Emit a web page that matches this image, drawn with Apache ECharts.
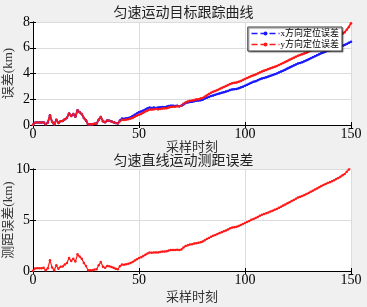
<!DOCTYPE html>
<html>
<head>
<meta charset="utf-8">
<script src="https://cdn.jsdelivr.net/npm/echarts@6/dist/echarts.min.js"></script>
<style>
html, body { margin: 0; padding: 0; background: #f0f0f0; }
#chart { width: 367px; height: 307px; }
</style>
</head>
<body>
<div id="chart"></div>
<script>
// sample index 0..150
const steps = [];
for (let i = 0; i <= 150; i++) steps.push(i);

const xErr = [
  0.02, 0.18, 0.2, 0.2, 0.19, 0.22, 0.05, 0.2, 0.75, 0.25,
  0.05, 0.4, 0.15, 0.3, 0.32, 0.45, 0.55, 0.9, 0.7, 0.85,
  0.65, 1.15, 1.0, 0.85, 0.55, 0.35, 0.05, 0.06, 0.05, 0.1,
  0.12, 0.4, 0.62, 0.3, 0.22, 0.35, 0.33, 0.28, 0.22, 0.15,
  0.12, 0.35, 0.5, 0.48, 0.52, 0.55, 0.6, 0.7, 0.8, 0.9,
  1.0, 1.05, 1.12, 1.2, 1.3, 1.35, 1.33, 1.35, 1.32, 1.35,
  1.38, 1.4, 1.38, 1.42, 1.48, 1.5, 1.5, 1.48, 1.5, 1.45,
  1.5, 1.6, 1.7, 1.75, 1.78, 1.8, 1.85, 1.88, 1.9, 1.92,
  1.97, 2.05, 2.12, 2.18, 2.25, 2.3, 2.35, 2.4, 2.45, 2.5,
  2.55, 2.6, 2.65, 2.72, 2.76, 2.78, 2.8, 2.85, 2.92, 2.98,
  3.05, 3.12, 3.2, 3.28, 3.35, 3.4, 3.48, 3.55, 3.62, 3.66,
  3.7, 3.76, 3.82, 3.88, 3.94, 4.0, 4.08, 4.15, 4.22, 4.3,
  4.38, 4.46, 4.54, 4.62, 4.7, 4.78, 4.82, 4.88, 4.95, 5.02,
  5.1, 5.18, 5.26, 5.34, 5.42, 5.5, 5.58, 5.64, 5.7, 5.76,
  5.8, 5.86, 5.9, 5.95, 6.0, 6.08, 6.15, 6.22, 6.3, 6.38,
  6.46
];

const yErr = [
  0.02, 0.18, 0.2, 0.2, 0.19, 0.22, 0.05, 0.2, 0.75, 0.25,
  0.05, 0.4, 0.15, 0.3, 0.32, 0.45, 0.55, 0.9, 0.7, 0.85,
  0.65, 1.15, 1.0, 0.85, 0.55, 0.35, 0.05, 0.06, 0.05, 0.1,
  0.12, 0.4, 0.62, 0.3, 0.22, 0.35, 0.33, 0.28, 0.22, 0.15,
  0.12, 0.3, 0.4, 0.38, 0.42, 0.45, 0.5, 0.55, 0.65, 0.72,
  0.8, 0.85, 0.95, 1.05, 1.12, 1.2, 1.2, 1.22, 1.25, 1.22,
  1.25, 1.28, 1.3, 1.3, 1.35, 1.4, 1.42, 1.42, 1.45, 1.45,
  1.5, 1.65, 1.75, 1.82, 1.88, 1.9, 1.95, 1.98, 2.0, 2.05,
  2.1, 2.2, 2.3, 2.4, 2.5, 2.58, 2.65, 2.72, 2.8, 2.88,
  2.95, 3.02, 3.1, 3.18, 3.25, 3.28, 3.3, 3.35, 3.42, 3.5,
  3.58, 3.65, 3.72, 3.8, 3.86, 3.92, 4.0, 4.08, 4.16, 4.22,
  4.28, 4.34, 4.4, 4.46, 4.52, 4.58, 4.66, 4.74, 4.82, 4.9,
  4.98, 5.06, 5.14, 5.22, 5.3, 5.38, 5.44, 5.5, 5.56, 5.62,
  5.7, 5.78, 5.86, 5.94, 6.02, 6.1, 6.18, 6.26, 6.34, 6.42,
  6.5, 6.58, 6.66, 6.76, 6.86, 6.96, 7.08, 7.2, 7.4, 7.62,
  7.9
];

const rangeErr = [
  0.03, 0.25, 0.28, 0.28, 0.27, 0.31, 0.07, 0.28, 1.06, 0.35,
  0.07, 0.57, 0.21, 0.42, 0.45, 0.64, 0.78, 1.27, 0.99, 1.2,
  0.92, 1.63, 1.41, 1.2, 0.78, 0.49, 0.07, 0.08, 0.07, 0.14,
  0.17, 0.57, 0.88, 0.42, 0.31, 0.49, 0.47, 0.4, 0.31, 0.21,
  0.17, 0.46, 0.64, 0.61, 0.67, 0.71, 0.78, 0.89, 1.03, 1.15,
  1.28, 1.35, 1.47, 1.59, 1.72, 1.81, 1.79, 1.82, 1.82, 1.82,
  1.86, 1.9, 1.9, 1.93, 2.0, 2.05, 2.07, 2.05, 2.09, 2.05,
  2.12, 2.3, 2.44, 2.52, 2.59, 2.62, 2.69, 2.73, 2.76, 2.81,
  2.88, 3.01, 3.13, 3.24, 3.36, 3.46, 3.54, 3.63, 3.72, 3.81,
  3.9, 3.98, 4.08, 4.18, 4.26, 4.3, 4.33, 4.4, 4.5, 4.6,
  4.7, 4.8, 4.91, 5.02, 5.11, 5.19, 5.3, 5.41, 5.51, 5.59,
  5.66, 5.74, 5.83, 5.91, 6.0, 6.08, 6.19, 6.3, 6.41, 6.52,
  6.63, 6.74, 6.86, 6.97, 7.08, 7.2, 7.27, 7.35, 7.44, 7.54,
  7.65, 7.76, 7.87, 7.99, 8.1, 8.21, 8.33, 8.43, 8.53, 8.63,
  8.71, 8.81, 8.9, 9.01, 9.11, 9.24, 9.38, 9.51, 9.72, 9.94,
  10.2
];

const topTitle = '匀速运动目标跟踪曲线';
const bottomTitle = '匀速直线运动测距误差';
const xName = '采样时刻';
const legendNames = ['x方向定位误差', 'y方向定位误差'];

const serif = "'Liberation Serif', 'Noto Sans CJK SC', serif";
const cjk = "'Noto Sans CJK SC', sans-serif";

function pairs(ys) {
  return steps.map((s, i) => [s, ys[i]]);
}

function xAxisFor(gi, gap) {
  return [{
    gridIndex: gi, type: 'value', min: 0, max: 150, interval: 50,
    name: xName, nameLocation: 'middle', nameGap: gap, nameMoveOverlap: false,
    nameTextStyle: { fontFamily: cjk, fontSize: 13, color: '#333' },
    axisLine: { lineStyle: { color: '#000' } },
    axisTick: { inside: true, length: 3, lineStyle: { color: '#000' } },
    axisLabel: { fontFamily: serif, fontSize: 14, color: '#000', margin: 2 },
    splitLine: { show: true, lineStyle: { color: '#dcdcdc' } }
  }, {
    gridIndex: gi, type: 'value', min: 0, max: 150, interval: 50, position: 'top',
    axisLine: { lineStyle: { color: '#000' } },
    axisTick: { inside: true, length: 3, lineStyle: { color: '#000' } },
    axisLabel: { show: false }, splitLine: { show: false }
  }];
}

function yAxisFor(gi, max, interval, name) {
  return [{
    gridIndex: gi, type: 'value', min: 0, max: max, interval: interval,
    name: name, nameLocation: 'middle', nameGap: 18, nameMoveOverlap: false,
    nameTextStyle: { fontFamily: serif, fontSize: 13, color: '#333' },
    axisLine: { show: true, lineStyle: { color: '#000' } },
    axisTick: { show: true, inside: true, length: 3, lineStyle: { color: '#000' } },
    axisLabel: { fontFamily: serif, fontSize: 14, color: '#000', margin: 3 },
    splitLine: { show: true, lineStyle: { color: '#dcdcdc' } }
  }, {
    gridIndex: gi, type: 'value', min: 0, max: max, interval: interval, position: 'right',
    axisLine: { show: true, lineStyle: { color: '#000' } },
    axisTick: { show: true, inside: true, length: 3, lineStyle: { color: '#000' } },
    axisLabel: { show: false }, splitLine: { show: false }
  }];
}

const chart = echarts.init(document.getElementById('chart'));
chart.setOption({
  backgroundColor: '#f0f0f0',
  animation: false,
  title: [
    { text: topTitle, left: 'center', top: 0,
      textStyle: { fontFamily: cjk, fontSize: 14, fontWeight: 'normal', color: '#222' } },
    { text: bottomTitle, left: 'center', top: 148,
      textStyle: { fontFamily: cjk, fontSize: 14, fontWeight: 'normal', color: '#222' } }
  ],
  legend: {
    data: legendNames,
    right: 25, top: 27,
    orient: 'vertical',
    itemGap: 2,
    itemWidth: 28, itemHeight: 5,
    padding: [2, 3, 2, 3],
    backgroundColor: '#fff',
    borderColor: '#444', borderWidth: 1,
    shadowColor: 'rgba(0,0,0,0.5)', shadowOffsetX: 1, shadowOffsetY: 1, shadowBlur: 1,
    lineStyle: { type: 'dashed', width: 1.5 },
    textStyle: { fontFamily: serif, fontSize: 9, color: '#000', padding: [0, 0, 0, -4] }
  },
  grid: [
    { left: 33, top: 22, width: 318, height: 103, outerBoundsMode: 'none', containLabel: false,
      show: true, backgroundColor: '#fff', borderWidth: 0 },
    { left: 33, top: 169, width: 318, height: 102, outerBoundsMode: 'none', containLabel: false,
      show: true, backgroundColor: '#fff', borderWidth: 0 }
  ],
  xAxis: [...xAxisFor(0, 15), ...xAxisFor(1, 19)],
  yAxis: [...yAxisFor(0, 8, 2, '误差(km)'), ...yAxisFor(1, 10, 5, '测距误差(km)')],
  series: [
    { name: legendNames[0], type: 'line', xAxisIndex: 0, yAxisIndex: 0, data: pairs(xErr),
      color: '#1a1aff', symbol: 'circle', symbolSize: 2.5, showSymbol: true,
      lineStyle: { width: 1.8 } },
    { name: legendNames[1], type: 'line', xAxisIndex: 0, yAxisIndex: 0, data: pairs(yErr),
      color: '#ff1a1a', symbol: 'circle', symbolSize: 2.5, showSymbol: true,
      lineStyle: { width: 1.8 } },
    { name: 'range', type: 'line', xAxisIndex: 2, yAxisIndex: 2, data: pairs(rangeErr),
      color: '#ff1a1a', symbol: 'circle', symbolSize: 2.5, showSymbol: true,
      lineStyle: { width: 1.2 } }
  ]
});
</script>
</body>
</html>
